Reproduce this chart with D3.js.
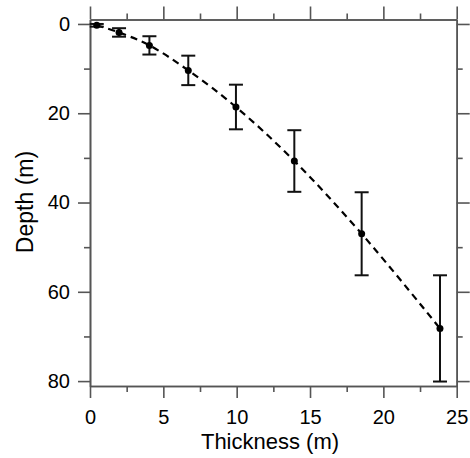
<!DOCTYPE html>
<html>
<head>
<meta charset="utf-8">
<script src="https://cdn.jsdelivr.net/npm/d3@7"></script>
<style>
  body { margin: 0; background: #fff; }
  svg { display: block; font-family: "Liberation Sans", Arial, sans-serif; }
</style>
</head>
<body>
<svg id="chart" width="470" height="458"></svg>
<script>
// values
var thickness = [0.46, 1.98, 4.05, 6.7, 9.95, 13.93, 18.52, 23.86];
var depth     = [0.3, 1.9, 4.8, 10.4, 18.6, 30.7, 47.0, 68.2];
var depthErr  = [0.3, 0.95, 2.05, 3.3, 5.0, 6.9, 9.3, 11.9];

var xMajor = [0, 5, 10, 15, 20, 25];
var xMinor = [2.5, 7.5, 12.5, 17.5, 22.5];
var yMajor = [0, 20, 40, 60, 80];
var yMinor = [10, 30, 50, 70];

var svg = d3.select("#chart");

var x = d3.scaleLinear().domain([0, 25]).range([90, 456.7]);
var y = d3.scaleLinear().domain([-1.0, 81.1]).range([19.5, 386]);

var axisColor = "#555";

function styleAxis(g) {
	g.selectAll("path.domain").attr("stroke", axisColor).attr("stroke-width", 1.6);
	g.selectAll(".tick line").attr("stroke", axisColor).attr("stroke-width", 1.6);
	g.selectAll(".tick text").attr("fill", "#000").attr("font-size", 20)
		.attr("font-family", "Liberation Sans, Arial, sans-serif");
}

// bottom
var gb = svg.append("g").attr("transform", "translate(0," + y.range()[1] + ")");
gb.call(d3.axisBottom(x).tickValues(xMinor).tickSize(6).tickSizeOuter(0).tickFormat(""));
gb.append("g").call(d3.axisBottom(x).tickValues(xMajor).tickSize(12).tickSizeOuter(0).tickPadding(12));
styleAxis(gb);

// top
var gt = svg.append("g").attr("transform", "translate(0," + y.range()[0] + ")");
gt.call(d3.axisTop(x).tickValues(xMinor).tickSize(6).tickSizeOuter(0).tickFormat(""));
gt.append("g").call(d3.axisTop(x).tickValues(xMajor).tickSize(13).tickSizeOuter(0).tickFormat(""));
styleAxis(gt);

// left
var gl = svg.append("g").attr("transform", "translate(" + x.range()[0] + ",0)");
gl.call(d3.axisLeft(y).tickValues(yMinor).tickSize(6).tickSizeOuter(0).tickFormat(""));
gl.append("g").call(d3.axisLeft(y).tickValues(yMajor).tickSize(12).tickSizeOuter(0).tickPadding(8));
styleAxis(gl);

// right
var gr = svg.append("g").attr("transform", "translate(" + x.range()[1] + ",0)");
gr.call(d3.axisRight(y).tickValues(yMinor).tickSize(6).tickSizeOuter(0).tickFormat(""));
gr.append("g").call(d3.axisRight(y).tickValues(yMajor).tickSize(13).tickSizeOuter(0).tickFormat(""));
styleAxis(gr);

var pts = thickness.map(function(t, i) {
	return { t: t, d: depth[i], e: depthErr[i] };
});

// dashed curve
var line = d3.line()
	.x(function(p) { return x(p.t); })
	.y(function(p) { return y(p.d); })
	.curve(d3.curveCatmullRom);

svg.append("path")
	.datum(pts)
	.attr("d", line)
	.attr("fill", "none")
	.attr("stroke", "#000")
	.attr("stroke-width", 2.2)
	.attr("stroke-dasharray", "7,5");

// error bars
var cap = 7;
var eb = svg.append("g").attr("stroke", "#111").attr("stroke-width", 2);
eb.selectAll("line.v").data(pts).enter().append("line")
	.attr("x1", function(p) { return x(p.t); })
	.attr("x2", function(p) { return x(p.t); })
	.attr("y1", function(p) { return y(p.d - p.e); })
	.attr("y2", function(p) { return y(p.d + p.e); });
eb.selectAll("line.top").data(pts).enter().append("line")
	.attr("x1", function(p) { return x(p.t) - cap; })
	.attr("x2", function(p) { return x(p.t) + cap; })
	.attr("y1", function(p) { return y(p.d - p.e); })
	.attr("y2", function(p) { return y(p.d - p.e); });
eb.selectAll("line.bot").data(pts).enter().append("line")
	.attr("x1", function(p) { return x(p.t) - cap; })
	.attr("x2", function(p) { return x(p.t) + cap; })
	.attr("y1", function(p) { return y(p.d + p.e); })
	.attr("y2", function(p) { return y(p.d + p.e); });

// points
svg.selectAll("circle").data(pts).enter().append("circle")
	.attr("cx", function(p) { return x(p.t); })
	.attr("cy", function(p) { return y(p.d); })
	.attr("r", 3.5)
	.attr("fill", "#000");

// titles
svg.append("text")
	.attr("x", 270).attr("y", 449)
	.attr("text-anchor", "middle")
	.attr("font-size", 22)
	.text("Thickness (m)");

svg.append("text")
	.attr("transform", "translate(33,202) rotate(-90)")
	.attr("text-anchor", "middle")
	.attr("font-size", 23)
	.text("Depth (m)");
</script>
</body>
</html>
